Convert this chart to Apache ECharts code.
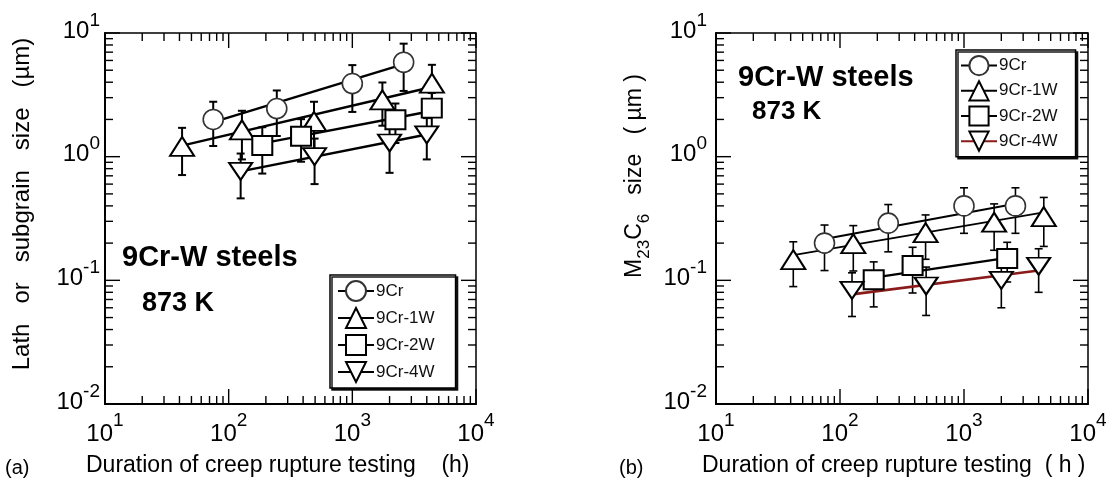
<!DOCTYPE html>
<html>
<head>
<meta charset="utf-8">
<script src="https://cdn.jsdelivr.net/npm/echarts@6/dist/echarts.min.js"></script>
<style>
html, body { margin: 0; padding: 0; background: #fff; }
#chart { width: 1111px; height: 482px; }
</style>
</head>
<body>
<div id="chart"></div>
<script>
// ---- Creep-rupture durations (h) of the examined specimens ----
const hours9Cr = [75, 245, 1000, 2600];
const hours1W  = [42, 128, 490, 1750, 4400];
const hours2W  = [187, 385, 2230, 4390];
const hours4W  = [125, 495, 2000, 4000];
const hours2WCarbide = [187, 385, 2230];

// ---- (a) Lath / subgrain size (µm) with scatter (±) ----
const lath9Cr    = [2.0, 2.45, 3.9, 5.8];
const lath9CrErr = [0.78, 0.98, 1.6, 2.4];
const lath1W     = [1.21, 1.65, 1.93, 2.88, 3.93];
const lath1WErr  = [0.5, 0.7, 0.85, 1.1, 1.6];
const lath2W     = [1.23, 1.46, 1.99, 2.47];
const lath2WErr  = [0.5, 0.55, 0.7, 0.8];
const lath4W     = [0.76, 1.0, 1.29, 1.5];
const lath4WErr  = [0.3, 0.4, 0.55, 0.55];

// ---- (b) M23C6 carbide size (µm) with scatter (±) ----
const carb9Cr    = [0.20, 0.29, 0.40, 0.40];
const carb9CrErr = [0.08, 0.12, 0.16, 0.16];
const carb1W     = [0.147, 0.198, 0.243, 0.295, 0.328];
const carb1WErr  = [0.058, 0.079, 0.095, 0.12, 0.14];
const carb2W     = [0.101, 0.132, 0.150];
const carb2WErr  = [0.04, 0.053, 0.053];
const carb4W     = [0.083, 0.09, 0.10, 0.13];
const carb4WErr  = [0.032, 0.038, 0.04, 0.05];

// ---- Fitted trend lines: [hours, size] at both ends ----
const lathFit9Cr = [[75, 1.9], [2600, 5.6]];
const lathFit1W  = [[42, 1.23], [4400, 3.66]];
const lathFit2W  = [[187, 1.28], [4390, 2.34]];
const lathFit4W  = [[125, 0.76], [4000, 1.51]];
const carbFit9Cr = [[75, 0.216], [2600, 0.416]];
const carbFit1W  = [[42, 0.16], [4400, 0.354]];
const carbFit2W  = [[187, 0.105], [2230, 0.152]];
const carbFit4W  = [[125, 0.077], [4000, 0.12]];

// ---- Axis ticks ----
const xMajorTicks = [10, 100, 1000, 10000];
const xMinorTicks = [20, 30, 40, 50, 60, 70, 80, 90,
                     200, 300, 400, 500, 600, 700, 800, 900,
                     2000, 3000, 4000, 5000, 6000, 7000, 8000, 9000];
const yMajorTicks = [0.01, 0.1, 1, 10];
const yMinorTicks = [0.02, 0.03, 0.04, 0.05, 0.06, 0.07, 0.08, 0.09,
                     0.2, 0.3, 0.4, 0.5, 0.6, 0.7, 0.8, 0.9,
                     2, 3, 4, 5, 6, 7, 8, 9];
const steelNames = ['9Cr', '9Cr-1W', '9Cr-2W', '9Cr-4W'];

const FONT = "'Liberation Sans', Arial, Helvetica, sans-serif";
const BLACK = '#000';
const FIT_RED = '#8b1a1a';

// marker look for each steel
const markers = {
  '9Cr':    { symbol: 'circle',   size: 20,       rotate: 0,   stroke: '#333', bw: 1.6 },
  '9Cr-1W': { symbol: 'triangle', size: [24, 19], rotate: 0,   stroke: BLACK,  bw: 2 },
  '9Cr-2W': { symbol: 'rect',     size: [20, 19], rotate: 0,   stroke: BLACK,  bw: 2 },
  '9Cr-4W': { symbol: 'triangle', size: [23, 17], rotate: 180, stroke: BLACK,  bw: 2 }
};

function zip2(a, b) { return a.map((v, i) => [v, b[i]]); }
function zip3(a, b, c) { return a.map((v, i) => [v, b[i], c[i]]); }

// vertical scatter bars with caps
function errorBarRender(lw, cap) {
  return function (params, api) {
    const x = api.value(0), y = api.value(1), e = api.value(2);
    const top = api.coord([x, y + e]);
    const bot = api.coord([x, y - e]);
    const st = { stroke: BLACK, lineWidth: lw };
    return {
      type: 'group',
      children: [
        { type: 'line', shape: { x1: top[0], y1: top[1], x2: bot[0], y2: bot[1] }, style: st },
        { type: 'line', shape: { x1: top[0] - cap, y1: top[1], x2: top[0] + cap, y2: top[1] }, style: st },
        { type: 'line', shape: { x1: bot[0] - cap, y1: bot[1], x2: bot[0] + cap, y2: bot[1] }, style: st }
      ]
    };
  };
}

// inward ticks on all four sides of a frame
function tickRender(params, api) {
  const cs = params.coordSys;
  const kind = api.value(2);
  const len = (kind % 2 === 0) ? 15 : 8;
  const p = api.coord([api.value(0), api.value(1)]);
  const st = { stroke: BLACK, lineWidth: 1.4 };
  let lines;
  if (kind < 2) {
    const b = cs.y + cs.height, t = cs.y;
    lines = [
      { x1: p[0], y1: b, x2: p[0], y2: b - len },
      { x1: p[0], y1: t, x2: p[0], y2: t + len }
    ];
  } else {
    const l = cs.x, r = cs.x + cs.width;
    lines = [
      { x1: l, y1: p[1], x2: l + len, y2: p[1] },
      { x1: r, y1: p[1], x2: r - len, y2: p[1] }
    ];
  }
  return { type: 'group', children: lines.map(s => ({ type: 'line', shape: s, style: st })) };
}

function tickData() {
  const d = [];
  xMajorTicks.forEach(v => d.push([v, yMajorTicks[1], 0]));
  xMinorTicks.forEach(v => d.push([v, yMajorTicks[1], 1]));
  yMajorTicks.forEach(v => d.push([xMajorTicks[1], v, 2]));
  yMinorTicks.forEach(v => d.push([xMajorTicks[1], v, 3]));
  return d;
}

const series = [];
function addGroup(gi, legendName, steel, hours, vals, errs, fit, lineColor, lineWidth) {
  const m = markers[steel];
  // fitted trend (also supplies the legend icon)
  series.push({
    type: 'line', name: legendName, xAxisIndex: gi, yAxisIndex: gi,
    data: fit, showSymbol: false, symbol: m.symbol, symbolSize: m.size, symbolRotate: m.rotate,
    lineStyle: { color: lineColor, width: lineWidth },
    itemStyle: { color: '#fff', borderColor: m.stroke, borderWidth: m.bw },
    silent: true, z: 3
  });
  series.push({
    type: 'custom', xAxisIndex: gi, yAxisIndex: gi,
    data: zip3(hours, vals, errs), renderItem: errorBarRender(gi === 0 ? 2 : 1.6, 4),
    encode: { x: 0, y: 1 }, silent: true, z: 2
  });
  series.push({
    type: 'scatter', xAxisIndex: gi, yAxisIndex: gi,
    data: zip2(hours, vals), symbol: m.symbol, symbolSize: m.size, symbolRotate: m.rotate,
    itemStyle: { color: '#fff', borderColor: m.stroke, borderWidth: m.bw, opacity: 1 },
    silent: true, z: 4
  });
}

addGroup(0, '9Cr',    '9Cr',    hours9Cr, lath9Cr, lath9CrErr, lathFit9Cr, BLACK, 2.4);
addGroup(0, '9Cr-1W', '9Cr-1W', hours1W,  lath1W,  lath1WErr,  lathFit1W,  BLACK, 2.4);
addGroup(0, '9Cr-2W', '9Cr-2W', hours2W,  lath2W,  lath2WErr,  lathFit2W,  BLACK, 2.4);
addGroup(0, '9Cr-4W', '9Cr-4W', hours4W,  lath4W,  lath4WErr,  lathFit4W,  BLACK, 2.4);
addGroup(1, '(b) 9Cr',    '9Cr',    hours9Cr, carb9Cr, carb9CrErr, carbFit9Cr, BLACK, 2.2);
addGroup(1, '(b) 9Cr-1W', '9Cr-1W', hours1W,  carb1W,  carb1WErr,  carbFit1W,  BLACK, 1.8);
addGroup(1, '(b) 9Cr-2W', '9Cr-2W', hours2WCarbide, carb2W, carb2WErr, carbFit2W, BLACK, 2.2);
addGroup(1, '(b) 9Cr-4W', '9Cr-4W', hours4W,  carb4W,  carb4WErr,  carbFit4W,  FIT_RED, 2.6);

[0, 1].forEach(gi => series.push({
  type: 'custom', xAxisIndex: gi, yAxisIndex: gi, data: tickData(),
  renderItem: tickRender, encode: { x: 0, y: 1 }, silent: true, z: 5
}));

// "10" with a raised exponent
function powLabel(v) {
  const e = Math.round(Math.log10(v));
  return '{b|10}{s|' + e + '}';
}
const xLabelRich = {
  b: { fontSize: 24, lineHeight: 35, verticalAlign: 'bottom', fontFamily: FONT, color: BLACK },
  s: { fontSize: 19, lineHeight: 19, verticalAlign: 'top', fontFamily: FONT, color: BLACK }
};
const yLabelRich = {
  b: { fontSize: 24, lineHeight: 32, verticalAlign: 'bottom', fontFamily: FONT, color: BLACK },
  s: { fontSize: 19, lineHeight: 19, verticalAlign: 'top', fontFamily: FONT, color: BLACK }
};

function xAxisFor(gi) {
  return {
    type: 'log', logBase: 10, gridIndex: gi, min: xMajorTicks[0], max: xMajorTicks[3],
    axisLine: { show: true, onZero: false, lineStyle: { color: BLACK, width: 2 } },
    axisTick: { show: false }, splitLine: { show: false }, minorTick: { show: false },
    axisLabel: { margin: 7, formatter: powLabel, rich: xLabelRich, showMinLabel: true, showMaxLabel: true }
  };
}
function yAxisFor(gi, margin) {
  return {
    type: 'log', logBase: 10, gridIndex: gi, min: yMajorTicks[0], max: yMajorTicks[3],
    axisLine: { show: true, onZero: false, lineStyle: { color: BLACK, width: 2 } },
    axisTick: { show: false }, splitLine: { show: false }, minorTick: { show: false },
    axisLabel: { margin: margin, formatter: powLabel, rich: yLabelRich, padding: [0, 0, 12, 0],
                 showMinLabel: true, showMaxLabel: true }
  };
}

function legendFor(names, left, top, pad, itemH, gap) {
  return {
    data: names, orient: 'vertical', left: left, top: top, padding: pad,
    itemWidth: 36, itemHeight: itemH, itemGap: gap, selectedMode: false,
    backgroundColor: '#fff', borderColor: BLACK, borderWidth: 1.5, borderRadius: 0,
    shadowColor: 'rgba(0,0,0,0.9)', shadowBlur: 0, shadowOffsetX: 2, shadowOffsetY: 2,
    textStyle: { fontFamily: FONT, fontSize: 17, color: '#111', padding: [0, 0, 0, -3] },
    formatter: n => n.replace('(b) ', '')
  };
}

function txt(x, y, text, size, bold, extra) {
  return Object.assign({
    type: 'text', x: x, y: y, silent: true,
    style: { text: text, fill: BLACK, fontFamily: FONT, fontSize: size, fontWeight: bold ? 'bold' : 'normal',
             align: 'left', verticalAlign: 'middle' }
  }, extra || {});
}

const option = {
  animation: false,
  backgroundColor: '#fff',
  grid: [
    { left: 105, top: 33, width: 371, height: 371, show: true, borderColor: BLACK, borderWidth: 1.5, backgroundColor: 'transparent' },
    { left: 716, top: 33, width: 372, height: 371, show: true, borderColor: BLACK, borderWidth: 1.5, backgroundColor: 'transparent' }
  ],
  xAxis: [xAxisFor(0), xAxisFor(1)],
  yAxis: [yAxisFor(0, 5), yAxisFor(1, 9)],
  legend: [
    legendFor(steelNames, 330, 275, [5, 21, 5, 7], 25, 5),
    legendFor(steelNames.map(n => '(b) ' + n), 956, 50, [5, 18, 5, 4], 24, 4)
  ],
  series: series,
  graphic: [
    txt(122, 258, '9Cr-W steels', 29, true),
    txt(142, 304, '873 K', 27, true),
    txt(738, 78, '9Cr-W steels', 29, true),
    txt(752, 112, '873 K', 26, true),
    txt(86, 466, 'Duration of creep rupture testing    (h)', 23, false),
    txt(702, 466, 'Duration of creep rupture testing  ( h )', 23, false),
    txt(5, 468, '(a)', 20, false),
    txt(619, 468, '(b)', 20, false),
    {
      type: 'text', x: 22, y: 204, rotation: Math.PI / 2, silent: true,
      style: { text: 'Lath   or   subgrain   size   (\u00b5m)', fill: BLACK, fontFamily: FONT, fontSize: 24,
               align: 'center', verticalAlign: 'middle' }
    },
    {
      type: 'text', x: 638, y: 176, rotation: Math.PI / 2, silent: true,
      style: {
        text: '{n|M}{sub|23}{n|C}{sub|6}{n|   size   ( \u00b5m )}',
        align: 'center', verticalAlign: 'middle',
        rich: {
          n: { fontSize: 23, lineHeight: 24, verticalAlign: 'top', fontFamily: FONT, fill: BLACK },
          sub: { fontSize: 17, lineHeight: 29, verticalAlign: 'bottom', fontFamily: FONT, fill: BLACK }
        }
      }
    }
  ]
};

const chart = echarts.init(document.getElementById('chart'), null, { renderer: 'canvas' });
chart.setOption(option);
</script>
</body>
</html>
